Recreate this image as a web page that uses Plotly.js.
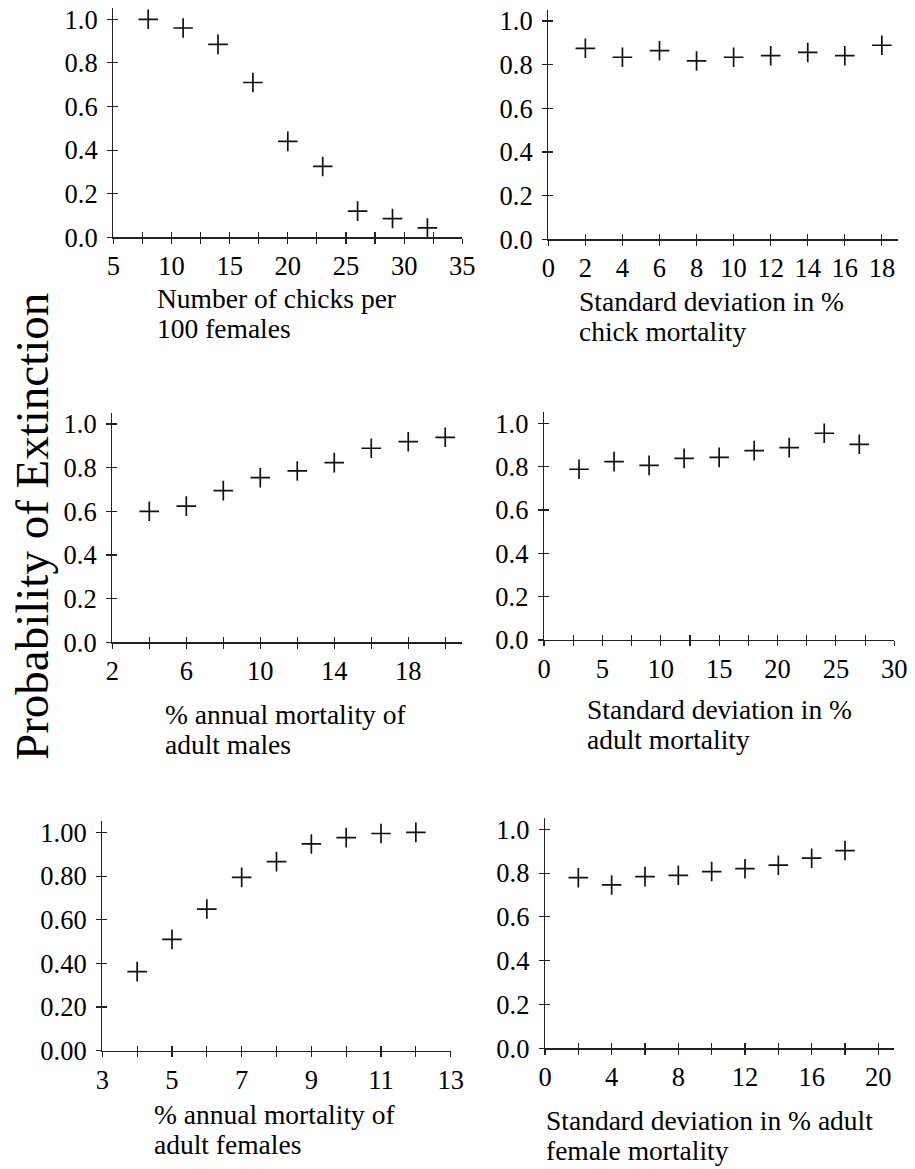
<!DOCTYPE html>
<html>
<head>
<meta charset="utf-8">
<script src="https://cdn.plot.ly/plotly-3.0.1.min.js"></script>
<style>html,body{margin:0;padding:0;background:#fff;}</style>
</head>
<body>
<div id="chart" style="width:915px;height:1169px;"></div>
<script>
// ---- data ----
const chicksX   = [8, 11, 14, 17, 20, 23, 26, 29, 32];
const chicksP   = [1.0, 0.96, 0.885, 0.71, 0.44, 0.325, 0.12, 0.086, 0.043];

const sdChickX  = [2, 4, 6, 8, 10, 12, 14, 16, 18];
const sdChickP  = [0.875, 0.834, 0.864, 0.817, 0.834, 0.841, 0.856, 0.841, 0.889];

const maleMortX = [4, 6, 8, 10, 12, 14, 16, 18, 20];
const maleMortP = [0.60, 0.624, 0.695, 0.754, 0.785, 0.823, 0.889, 0.919, 0.939];

const sdAdultX  = [3, 6, 9, 12, 15, 18, 21, 24, 27];
const sdAdultP  = [0.788, 0.823, 0.806, 0.838, 0.843, 0.874, 0.888, 0.954, 0.903];

const femMortX  = [4, 5, 6, 7, 8, 9, 10, 11, 12];
const femMortP  = [0.362, 0.51, 0.649, 0.794, 0.866, 0.947, 0.976, 0.995, 1.0];

const sdFemX    = [2, 4, 6, 8, 10, 12, 14, 16, 18];
const sdFemP    = [0.779, 0.746, 0.784, 0.79, 0.807, 0.82, 0.836, 0.868, 0.903];

// tick values / labels
const xTicks1 = [5, 7.5, 10, 12.5, 15, 17.5, 20, 22.5, 25, 27.5, 30, 32.5, 35];
const xText1  = ['5', '', '10', '', '15', '', '20', '', '25', '', '30', '', '35'];
const xTicks2 = [0, 2, 4, 6, 8, 10, 12, 14, 16, 18];
const xText2  = ['0', '2', '4', '6', '8', '10', '12', '14', '16', '18'];
const xTicks3 = [2, 4, 6, 8, 10, 12, 14, 16, 18, 20];
const xText3  = ['2', '', '6', '', '10', '', '14', '', '18', ''];
const xTicks4 = [0, 2.5, 5, 7.5, 10, 12.5, 15, 17.5, 20, 22.5, 25, 27.5, 30];
const xText4  = ['0', '', '5', '', '10', '', '15', '', '20', '', '25', '', '30'];
const xTicks5 = [3, 4, 5, 6, 7, 8, 9, 10, 11, 12, 13];
const xText5  = ['3', '', '5', '', '7', '', '9', '', '11', '', '13'];
const xTicks6 = [0, 2, 4, 6, 8, 10, 12, 14, 16, 18, 20];
const xText6  = ['0', '', '4', '', '8', '', '12', '', '16', '', '20'];
const yTicks  = [0, 0.2, 0.4, 0.6, 0.8, 1.0];
const yText1  = ['0.0', '0.2', '0.4', '0.6', '0.8', '1.0'];
const yText2  = ['0.00', '0.20', '0.40', '0.60', '0.80', '1.00'];

const xTitles = [
  ['Number of chicks per', '100 females'],
  ['Standard deviation in %', 'chick mortality'],
  ['% annual mortality of', 'adult males'],
  ['Standard deviation in %', 'adult mortality'],
  ['% annual mortality of', 'adult females'],
  ['Standard deviation in % adult', 'female mortality']
];
const yTitle = 'Probability of Extinction';

// ---- layout geometry (pixels) ----
const W = 915, H = 1169;
const FONT = 'Liberation Serif, Times New Roman, serif';
const TICK_FS = 26.5, TITLE_FS = 27.5, YTITLE_FS = 47;
const panels = [
  {xs: chicksX,   ys: chicksP,   xpx: [113.3, 462.3], xr: [5, 35],    yb: 237.3,  yu: 218.0, tv: xTicks1, tt: xText1, yt: yText1, tl: [158, 307]},
  {xs: sdChickX,  ys: sdChickP,  xpx: [548.3, 898.0], xr: [0, 18.87], yb: 239.3,  yu: 218.3, tv: xTicks2, tt: xText2, yt: yText1, tl: [580, 310]},
  {xs: maleMortX, ys: maleMortP, xpx: [112.3, 461.7], xr: [2, 20.89], yb: 642.3,  yu: 218.3, tv: xTicks3, tt: xText3, yt: yText1, tl: [166, 723]},
  {xs: sdAdultX,  ys: sdAdultP,  xpx: [544.0, 894.3], xr: [0, 30],    yb: 640.0,  yu: 216.7, tv: xTicks4, tt: xText4, yt: yText1, tl: [588, 718]},
  {xs: femMortX,  ys: femMortP,  xpx: [102.3, 450.7], xr: [3, 13],    yb: 1050.7, yu: 218.3, tv: xTicks5, tt: xText5, yt: yText2, tl: [155, 1123]},
  {xs: sdFemX,    ys: sdFemP,    xpx: [545.0, 894.0], xr: [0, 20.94], yb: 1048.3, yu: 219.0, tv: xTicks6, tt: xText6, yt: yText1, tl: [547, 1129]}
];
const YMAX = 1.05;
const LINE_GAP = 30;

const traces = [];
const layout = {
  width: W, height: H,
  margin: {l: 0, r: 0, t: 0, b: 0},
  paper_bgcolor: '#fff', plot_bgcolor: 'rgba(0,0,0,0)',
  showlegend: false,
  font: {family: FONT, size: TICK_FS, color: '#000'},
  annotations: []
};

panels.forEach((p, i) => {
  const n = i + 1, m = i + 7;
  const xd = [p.xpx[0] / W, p.xpx[1] / W];
  const ytop = p.yb - YMAX * p.yu;
  const yd = [1 - p.yb / H, 1 - ytop / H];
  const common = {showgrid: false, zeroline: false, fixedrange: true};
  layout['xaxis' + n] = Object.assign({}, common, {
    domain: xd, range: p.xr, anchor: 'y' + n,
    showline: true, linecolor: '#222', linewidth: 1.3,
    tickmode: 'array', tickvals: p.tv, ticktext: p.tt,
    ticks: 'outside', ticklen: 5, tickwidth: 1.1, tickcolor: '#222',
    ticklabelstandoff: 0,
    tickfont: {family: FONT, size: TICK_FS, color: '#000'}
  });
  layout['yaxis' + n] = Object.assign({}, common, {
    domain: yd, range: [0, YMAX], anchor: 'x' + n,
    showline: true, linecolor: '#222', linewidth: 1.3,
    tickmode: 'array', tickvals: yTicks, ticktext: p.yt,
    ticks: 'outside', ticklen: 5, tickwidth: 1.1, tickcolor: '#222',
    ticklabelstandoff: 4,
    tickfont: {family: FONT, size: TICK_FS, color: '#000'}
  });
  // overlay axes giving the inner half of the crossing ticks
  layout['xaxis' + m] = Object.assign({}, common, {
    range: p.xr, overlaying: 'x' + n, anchor: 'y' + m, side: 'bottom',
    showline: false, tickmode: 'array', tickvals: p.tv,
    ticks: 'inside', ticklen: 5, tickwidth: 1.1, tickcolor: '#222', showticklabels: false
  });
  layout['yaxis' + m] = Object.assign({}, common, {
    range: [0, YMAX], overlaying: 'y' + n, anchor: 'x' + m, side: 'left',
    showline: false, tickmode: 'array', tickvals: yTicks,
    ticks: 'inside', ticklen: 5, tickwidth: 1.1, tickcolor: '#222', showticklabels: false
  });
  traces.push({
    type: 'scatter', mode: 'markers', x: p.xs, y: p.ys,
    xaxis: 'x' + n, yaxis: 'y' + n, hoverinfo: 'skip',
    marker: {symbol: 'cross-thin', size: 14, color: '#111', line: {color: '#111', width: 1.7}}
  });
  traces.push({
    type: 'scatter', mode: 'markers', x: [], y: [],
    xaxis: 'x' + m, yaxis: 'y' + m, hoverinfo: 'skip'
  });
  xTitles[i].forEach((line, k) => {
    const base = p.tl[1] + k * LINE_GAP;
    layout.annotations.push({
      text: line, xref: 'paper', yref: 'paper',
      x: (p.tl[0] - 2) / W, y: 1 - (base - 0.3 * TITLE_FS) / H,
      xanchor: 'left', yanchor: 'middle',
      align: 'left', showarrow: false, borderpad: 0,
      font: {family: FONT, size: TITLE_FS, color: '#000'}
    });
  });
});

layout.annotations.push({
  text: yTitle, xref: 'paper', yref: 'paper',
  x: 32 / W, y: 1 - 527 / H, xanchor: 'center', yanchor: 'middle',
  textangle: -90, showarrow: false,
  font: {family: FONT, size: YTITLE_FS, color: '#000'}
});

Plotly.newPlot('chart', traces, layout, {staticPlot: true, displayModeBar: false});
</script>
</body>
</html>
